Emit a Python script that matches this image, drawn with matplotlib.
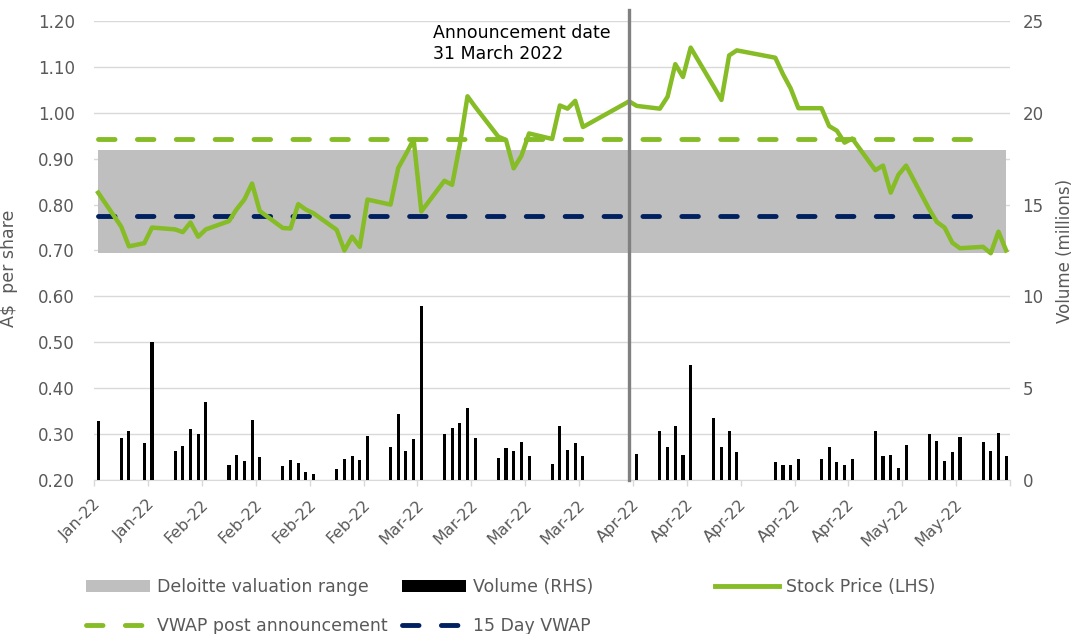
import numpy as np
import pandas as pd
import matplotlib
matplotlib.use("Agg")
import matplotlib.pyplot as plt
import matplotlib.dates as mdates
from matplotlib.patches import Patch
from matplotlib.lines import Line2D

# Trading days, closing price (A$) and daily volume (millions)
dates = [
    "2022-01-21", "2022-01-24", "2022-01-25", "2022-01-27", "2022-01-28",
    "2022-01-31", "2022-02-01", "2022-02-02", "2022-02-03", "2022-02-04",
    "2022-02-07", "2022-02-08", "2022-02-09", "2022-02-10", "2022-02-11",
    "2022-02-14", "2022-02-15", "2022-02-16", "2022-02-17", "2022-02-18",
    "2022-02-21", "2022-02-22", "2022-02-23", "2022-02-24", "2022-02-25",
    "2022-02-28", "2022-03-01", "2022-03-02", "2022-03-03", "2022-03-04",
    "2022-03-07", "2022-03-08", "2022-03-09", "2022-03-10", "2022-03-11",
    "2022-03-14", "2022-03-15", "2022-03-16", "2022-03-17", "2022-03-18",
    "2022-03-21", "2022-03-22", "2022-03-23", "2022-03-24", "2022-03-25",
    "2022-03-31", "2022-04-01",
    "2022-04-04", "2022-04-05", "2022-04-06", "2022-04-07", "2022-04-08",
    "2022-04-11", "2022-04-12", "2022-04-13", "2022-04-14",
    "2022-04-19", "2022-04-20", "2022-04-21", "2022-04-22",
    "2022-04-25", "2022-04-26", "2022-04-27", "2022-04-28", "2022-04-29",
    "2022-05-02", "2022-05-03", "2022-05-04", "2022-05-05", "2022-05-06",
    "2022-05-09", "2022-05-10", "2022-05-11", "2022-05-12", "2022-05-13",
    "2022-05-16", "2022-05-17", "2022-05-18", "2022-05-19",
]
price = [
    0.826, 0.752, 0.709, 0.716, 0.750,
    0.746, 0.740, 0.761, 0.730, 0.746,
    0.764, 0.790, 0.811, 0.846, 0.786,
    0.749, 0.748, 0.801, 0.789, 0.781,
    0.745, 0.700, 0.730, 0.708, 0.811,
    0.800, 0.880, 0.910, 0.942, 0.785,
    0.852, 0.843, 0.930, 1.036, 1.013,
    0.948, 0.941, 0.879, 0.906, 0.955,
    0.943, 1.016, 1.009, 1.026, 0.969,
    1.025, 1.015,
    1.009, 1.035, 1.106, 1.078, 1.142,
    1.057, 1.028, 1.125, 1.136,
    1.120, 1.084, 1.053, 1.010,
    1.010, 0.971, 0.961, 0.935, 0.944,
    0.875, 0.885, 0.826, 0.865, 0.885,
    0.790, 0.762, 0.750, 0.717, 0.705,
    0.708, 0.694, 0.741, 0.700,
]
volume = [
    3.21, 2.29, 2.67, 2.03, 7.50,
    1.56, 1.85, 2.76, 2.51, 4.27,
    0.83, 1.38, 1.02, 3.27, 1.27,
    0.76, 1.11, 0.94, 0.44, 0.35,
    0.58, 1.13, 1.31, 1.11, 2.40,
    1.78, 3.58, 1.56, 2.21, 9.49,
    2.49, 2.85, 3.10, 3.90, 2.31,
    1.18, 1.72, 1.58, 2.05, 1.33,
    0.86, 2.94, 1.63, 2.03, 1.29,
    4.27, 1.40,
    2.67, 1.82, 2.94, 1.38, 6.25,
    3.36, 1.78, 2.67, 1.53,
    0.98, 0.80, 0.80, 1.13,
    1.13, 1.82, 0.98, 0.80, 1.16,
    2.67, 1.29, 1.38, 0.65, 1.91,
    2.49, 2.11, 1.05, 1.54, 2.32,
    2.05, 1.60, 2.58, 1.31,
]

valuation_low, valuation_high = 0.695, 0.920
vwap_post = 0.943
vwap_15d = 0.775
vwap_end = "2022-05-16"
announcement = "2022-03-31"

GREEN = "#86bc25"
NAVY = "#002060"
GREY_TXT = "#595959"
GRID = "#d9d9d9"

plt.rcParams["font.family"] = "DejaVu Sans"

x = mdates.date2num(np.array(dates, dtype="datetime64[D]"))
x_ann = mdates.date2num(np.datetime64(announcement))
x_vwap = x[x <= mdates.date2num(np.datetime64(vwap_end))]

fig = plt.figure(figsize=(10.78, 6.34), dpi=100)
ax = fig.add_axes([94.3 / 1078, 1 - 480 / 634, (1010 - 94.3) / 1078, 459 / 634])
ax2 = ax.twinx()

# valuation range band and VWAP reference lines
ax.fill_between(x[[0, -1]], valuation_low, valuation_high, color="#bfbfbf", lw=0, zorder=1)
ax.plot(x_vwap, np.full(len(x_vwap), vwap_post), color=GREEN, lw=3.5,
        dashes=(3.4, 4.6), dash_capstyle="round", zorder=2)
ax.plot(x_vwap, np.full(len(x_vwap), vwap_15d), color=NAVY, lw=3.5,
        dashes=(3.4, 4.6), dash_capstyle="round", zorder=2)
ax.plot(x, price, color=GREEN, lw=3.2, solid_joinstyle="round", zorder=3)

ax2.bar(x, volume, width=0.4, color="black", zorder=2)
ax2.plot([x_ann, x_ann], [0, 25.6], color="#808080", lw=2.4, clip_on=False, zorder=5)

ax.annotate("Announcement date\n31 March 2022", xy=(x_ann, 1.2), xytext=(-196, -3),
            textcoords="offset pixels", ha="left", va="top", fontsize=12.5, color="black")

# axes ranges and ticks
ax.set_xlim(x[0] - 0.5, x[-1] + 0.5)
ax.set_ylim(0.2, 1.2)
ax2.set_ylim(0, 25)

label_days = np.arange(np.datetime64("2022-01-21"), np.datetime64("2022-05-14"), 7)
tick_days = np.arange(np.datetime64("2022-01-21"), np.datetime64("2022-05-21"), 7)
ax.set_xticks(mdates.date2num(label_days),
              [pd.Timestamp(d).strftime("%b-%y") for d in label_days])
ax.set_xticks(mdates.date2num(tick_days) - 0.5, minor=True)
ax.tick_params(axis="x", which="major", length=0, pad=16, labelsize=11.5,
               labelcolor=GREY_TXT)
ax.tick_params(axis="x", which="minor", length=4, width=1, color=GRID)
for lab in ax.get_xticklabels():
    lab.set_rotation(45)
    lab.set_ha("right")
    lab.set_va("center")
    lab.set_rotation_mode("anchor")

ax.set_yticks(np.arange(0.2, 1.21, 0.1))
ax.yaxis.set_major_formatter(plt.FormatStrFormatter("%.2f"))
ax.tick_params(axis="y", length=0, pad=14, labelsize=12, labelcolor=GREY_TXT)
ax2.set_yticks(np.arange(0, 26, 5))
ax2.tick_params(axis="y", length=0, pad=9, labelsize=12, labelcolor=GREY_TXT)

ax.grid(axis="y", color=GRID, lw=1.0)
ax.set_axisbelow(True)
for s in ["top", "left", "right"]:
    ax.spines[s].set_visible(False)
ax.spines["bottom"].set_color(GRID)
for s in ax2.spines.values():
    s.set_visible(False)

ax.set_ylabel("A$  per share", fontsize=12.5, color=GREY_TXT)
ax.yaxis.set_label_coords(-0.083, 0.462)
ax2.set_ylabel("Volume (millions)", fontsize=12, color=GREY_TXT, rotation=90)
ax2.yaxis.set_label_coords(1.05, 0.5)

# legend laid out as three fixed columns
leg_kw = dict(loc="upper left", frameon=False, fontsize=12.5, labelcolor=GREY_TXT,
              handlelength=3.7, handletextpad=0.4, labelspacing=1.2,
              borderpad=0, borderaxespad=0)
col1 = [Patch(facecolor="#bfbfbf", label="Deloitte valuation range"),
        Line2D([], [], color=GREEN, lw=3.5, dashes=(3.4, 4.6), dash_capstyle="round",
               label="VWAP post announcement")]
col2 = [Patch(facecolor="black", label="Volume (RHS)"),
        Line2D([], [], color=NAVY, lw=3.5, dashes=(3.4, 4.6), dash_capstyle="round",
               label="15 Day VWAP")]
col3 = [Line2D([], [], color=GREEN, lw=3.5, label="Stock Price (LHS)")]
for handles, left in [(col1, 86), (col2, 402), (col3, 715)]:
    fig.legend(handles=handles, bbox_to_anchor=(left / 1078, 1 - 578 / 634), **leg_kw)

fig.savefig("out.png", dpi=100)
